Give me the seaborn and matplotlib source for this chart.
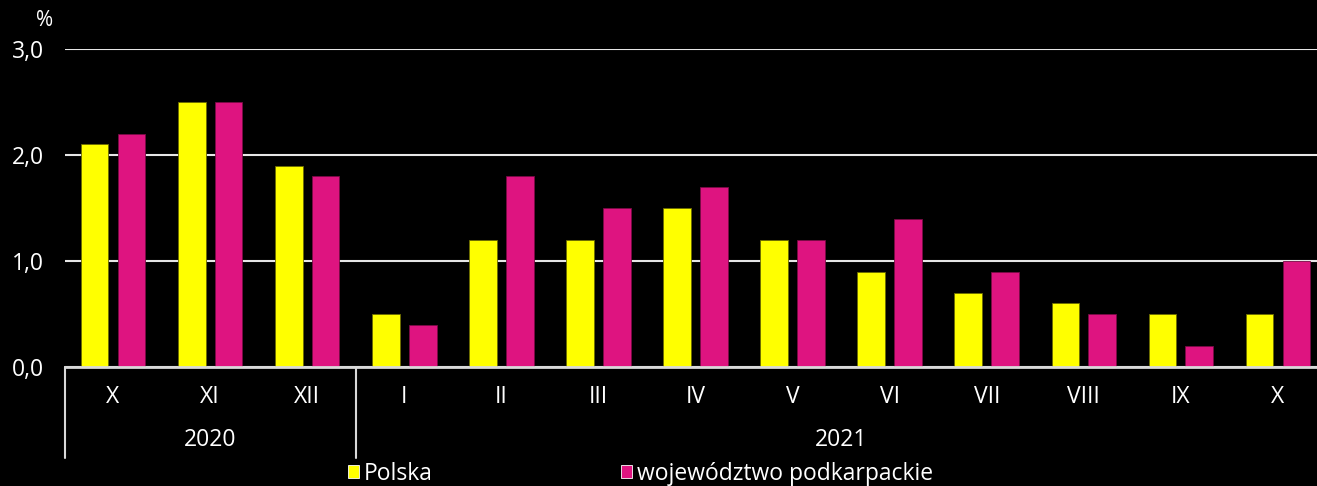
import pandas as pd
import numpy as np
import seaborn as sns
import matplotlib.pyplot as plt
import matplotlib.transforms as mtransforms

# Data
months = ["X", "XI", "XII", "I", "II", "III", "IV", "V", "VI", "VII", "VIII", "IX", "X"]
years = ["2020", "2020", "2020", "2021", "2021", "2021", "2021", "2021", "2021", "2021", "2021", "2021", "2021"]
polska = [2.1, 2.5, 1.9, 0.5, 1.2, 1.2, 1.5, 1.2, 0.9, 0.7, 0.6, 0.5, 0.5]
podkarpackie = [2.2, 2.5, 1.8, 0.4, 1.8, 1.5, 1.7, 1.2, 1.4, 0.9, 0.5, 0.2, 1.0]
series_names = ["Polska", "województwo podkarpackie"]
colors = ["#FFFF00", "#DE1480"]
edge_colors = ["#6b6b00", "#7a0a45"]

keys = [f"{m} {y}" for m, y in zip(months, years)]
df = pd.DataFrame({
    "okres": keys * 2,
    "wartosc": polska + podkarpackie,
    "seria": [series_names[0]] * len(keys) + [series_names[1]] * len(keys),
})

sns.set_style("dark", {"axes.facecolor": "black", "figure.facecolor": "black"})
plt.rcParams["font.family"] = ["Open Sans", "DejaVu Sans"]

fs = 16.5
fig = plt.figure(figsize=(13.17, 4.86), dpi=100)
# axes runs a bit past the right edge of the figure, as in the original
ax = fig.add_axes([64.5 / 1317, 1 - 367 / 486, 1262 / 1317, 318 / 486])

sns.barplot(data=df, x="okres", y="wartosc", hue="seria", order=keys,
            hue_order=series_names, palette=colors, saturation=1,
            width=0.76, gap=0.25, linewidth=0.6, ax=ax, legend=True)
for cont, ec in zip(ax.containers, edge_colors):
    for patch in cont:
        patch.set_edgecolor(ec)

ax.set_xlim(-0.5, len(keys) - 0.5)
ax.set_ylim(0, 3)
ax.set_yticks([0, 1, 2, 3])
ax.set_yticklabels(["0,0", "1,0", "2,0", "3,0"])
ax.set_xticks(range(len(keys)))
ax.set_xticklabels(months)
ax.tick_params(axis="both", colors="white", labelsize=fs, length=0)
ax.tick_params(axis="x", pad=13)
ax.tick_params(axis="y", pad=15)
ax.set_xlabel("")
ax.set_ylabel("")
ax.grid(axis="y", color="#e6e6e6", linewidth=1.5)
ax.grid(axis="x", visible=False)
for side in ["top", "right", "left"]:
    ax.spines[side].set_visible(False)
ax.spines["bottom"].set_color("#d9d9d9")
ax.spines["bottom"].set_linewidth(2)
ax.set_axisbelow(True)

# Year groups
trans = mtransforms.blended_transform_factory(ax.transData, ax.transAxes)
for xpos in [-0.5, 2.5]:
    ax.plot([xpos, xpos], [0, -0.285], transform=trans, color="#d9d9d9",
            linewidth=1.5, clip_on=False)
ax.text(1, -0.23, "2020", transform=trans, color="white", fontsize=fs,
        ha="center", va="center")
ax.text(7.5, -0.23, "2021", transform=trans, color="white", fontsize=fs,
        ha="center", va="center")

fig.text(45 / 1317, 1 - 20 / 486, "%", color="white", fontsize=15,
         ha="center", va="center")

handles, labels = ax.get_legend_handles_labels()
ax.get_legend().remove()
fig.legend(handles, labels, loc="lower left", bbox_to_anchor=(348 / 1317, 0.0),
           ncol=2, frameon=False, fontsize=fs, handlelength=0.5,
           handleheight=0.5, handletextpad=0.2, columnspacing=8.2,
           borderpad=0, borderaxespad=0, labelcolor="white")

fig.savefig("out.png", dpi=100, facecolor="black")
